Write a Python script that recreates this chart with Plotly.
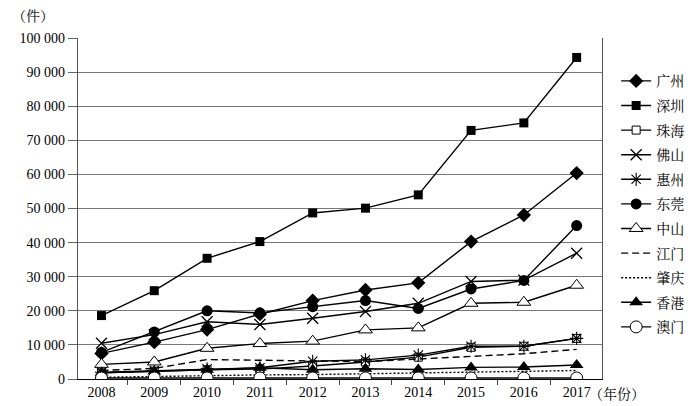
import plotly.graph_objects as go

years = ["2008", "2009", "2010", "2011", "2012", "2013", "2014", "2015", "2016", "2017"]

guangzhou = [7500, 10800, 14500, 19000, 23000, 26100, 28200, 40300, 48100, 60400]
shenzhen = [18600, 25900, 35400, 40300, 48700, 50100, 54000, 72900, 75100, 94300]
zhuhai = [1800, 2300, 2700, 2900, 3800, 5000, 6400, 9300, 9600, 11900]
foshan = [10500, 13000, 16800, 16000, 17800, 19800, 22200, 28600, 29000, 36900]
huizhou = [2000, 2500, 3000, 3300, 5200, 5600, 7000, 9600, 9600, 11900]
dongguan = [7800, 13800, 20000, 19400, 21200, 23000, 20700, 26400, 28900, 45000]
zhongshan = [4300, 5000, 9000, 10400, 11100, 14400, 15000, 22200, 22500, 27500]
jiangmen = [2500, 3100, 5700, 5600, 5300, 5100, 5900, 6600, 7400, 8700]
zhaoqing = [500, 800, 1000, 1200, 1300, 1500, 1700, 2100, 2300, 2500]
hongkong = [1800, 2200, 2700, 3300, 2700, 3000, 2800, 3400, 3500, 4100]
macau = [300, 300, 300, 300, 300, 300, 300, 300, 300, 300]

y_ticks = [0, 10000, 20000, 30000, 40000, 50000, 60000, 70000, 80000, 90000, 100000]

FONT = "Liberation Serif, Noto Serif CJK SC, Noto Sans CJK SC, serif"

series = [
    ("广州", guangzhou, dict(symbol="diamond", size=11, color="black"), "solid"),
    ("深圳", shenzhen, dict(symbol="square", size=9, color="black"), "solid"),
    ("珠海", zhuhai, dict(symbol="square", size=8, color="white", line=dict(color="black", width=1)), "solid"),
    ("佛山", foshan, dict(symbol="x-thin", size=11, color="black", line=dict(color="black", width=1.3)), "solid"),
    ("惠州", huizhou, dict(symbol="asterisk", size=11, color="black", line=dict(color="black", width=1.1)), "solid"),
    ("东莞", dongguan, dict(symbol="circle", size=11, color="black"), "solid"),
    ("中山", zhongshan, dict(symbol="triangle-up", size=12, color="white", line=dict(color="black", width=1)), "solid"),
    ("江门", jiangmen, None, "7px,4px"),
    ("肇庆", zhaoqing, None, "2px,2px"),
    ("香港", hongkong, dict(symbol="triangle-up", size=12, color="black"), "solid"),
    ("澳门", macau, dict(symbol="circle", size=12, color="white", line=dict(color="black", width=1)), "solid"),
]

fig = go.Figure()
for i, (name, vals, marker, dash) in enumerate(series):
    mode = "lines+markers" if marker else "lines"
    kw = dict(marker=marker) if marker else {}
    fig.add_trace(go.Scatter(
        x=years, y=vals, name=name, mode=mode,
        line=dict(color="black", width=1.4, dash=dash),
        legendgroup=f"g{i}",
        **kw,
    ))

fig.update_layout(
    width=700, height=406,
    margin=dict(l=59, r=106, t=30, b=35),
    paper_bgcolor="white", plot_bgcolor="white",
    font=dict(family=FONT, size=14, color="black"),
    separators=". ",
    showlegend=True,
    legend=dict(
        x=1.027, y=0.92, xanchor="left", yanchor="top",
        traceorder="grouped", tracegroupgap=3.4,
        font=dict(size=14), bgcolor="rgba(0,0,0,0)",
    ),
    xaxis=dict(
        type="category", range=[-0.445, 9.48],
        showline=True, linecolor="black", linewidth=1.2,
        ticks="outside", ticklen=5, tickcolor="#444", tickson="boundaries",
        showgrid=False, zeroline=False,
        tickfont=dict(size=14),
    ),
    yaxis=dict(
        range=[0, 100000], tickvals=y_ticks, tickformat=",d",
        showline=True, linecolor="#555", linewidth=1.2, mirror=True,
        ticks="outside", ticklen=9, tickcolor="#666",
        showgrid=True, gridcolor="#777", gridwidth=1,
        zeroline=False, tickfont=dict(size=14),
    ),
    annotations=[
        dict(text="（件）", xref="paper", yref="paper", x=-0.085, y=1.062,
             xanchor="center", yanchor="middle", showarrow=False, font=dict(size=14)),
        dict(text="（年份）", xref="paper", yref="paper", x=0.972, y=-0.045,
             xanchor="left", yanchor="middle", showarrow=False, font=dict(size=14)),
    ],
)

fig.write_html("out.html")
